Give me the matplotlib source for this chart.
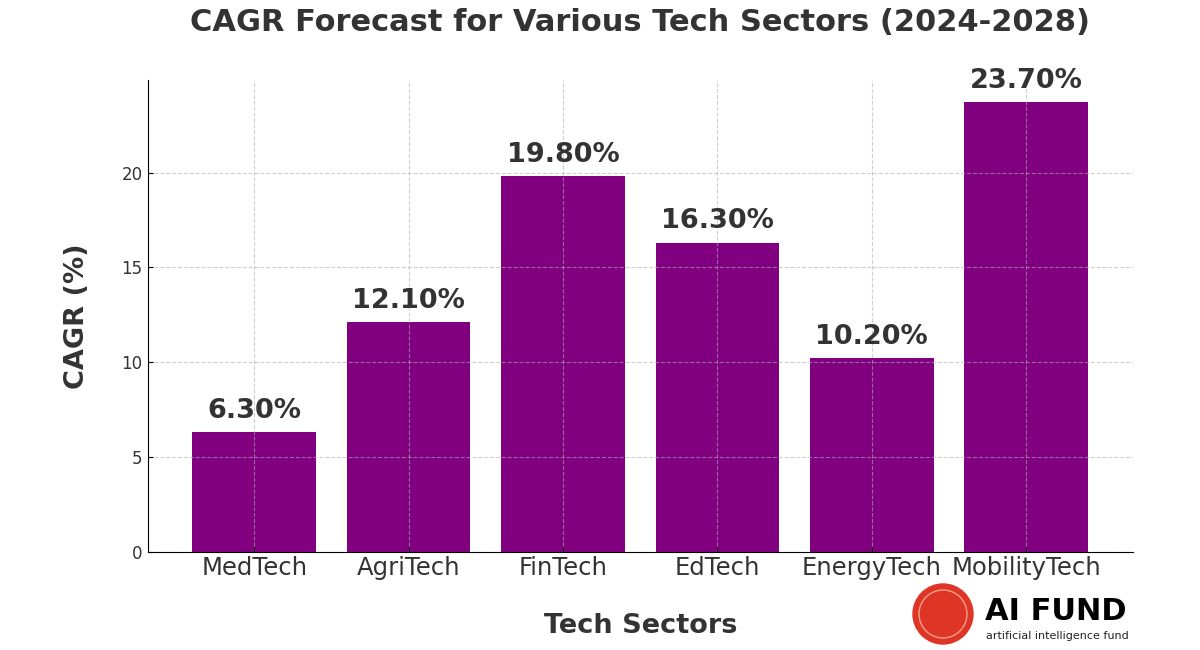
import numpy as np
import matplotlib
matplotlib.use("Agg")
import matplotlib.pyplot as plt
from matplotlib.patches import Circle

plt.rcParams["font.family"] = ["DejaVu Sans"]

# data
sectors = ["MedTech", "AgriTech", "FinTech", "EdTech", "EnergyTech", "MobilityTech"]
cagr = [6.3, 12.1, 19.8, 16.3, 10.2, 23.7]

TXT = "#333333"
BAR = "#800080"

fig = plt.figure(figsize=(12, 6.5), dpi=100)
ax = fig.add_axes([0.123, 0.151, 0.821, 0.726])

x = np.arange(len(sectors))
bars = ax.bar(x, cagr, width=0.8, color=BAR)

for b, v in zip(bars, cagr):
    ax.text(b.get_x() + b.get_width() / 2, v + 0.45, f"{v:.2f}%",
            ha="center", va="bottom", fontsize=19.5, fontweight="bold", color=TXT)

ax.set_xticks(x)
ax.set_xticklabels(sectors, fontsize=17.5, color=TXT)
ax.set_ylim(0, max(cagr) * 1.05)
ax.set_yticks([0, 5, 10, 15, 20])
ax.tick_params(axis="y", labelsize=12, labelcolor=TXT, direction="in")
ax.tick_params(axis="x", direction="in", pad=3)

ax.grid(True, linestyle="--", color="#b0b0b0", alpha=0.6, linewidth=0.8)
ax.set_axisbelow(False)
for s in ["top", "right"]:
    ax.spines[s].set_visible(False)

ax.set_xlabel("Tech Sectors", fontsize=19.5, fontweight="bold", color=TXT, labelpad=24)
ax.set_ylabel("CAGR (%)", fontsize=19.5, fontweight="bold", color=TXT, labelpad=23)
fig.text(0.533, 0.965, "CAGR Forecast for Various Tech Sectors (2024-2028)",
         ha="center", va="center", fontsize=22, fontweight="bold", color=TXT)

# logo
logo = fig.add_axes([0.755, 0.0, 0.2, 0.12])
logo.set_xlim(0, 240)
logo.set_ylim(0, 78)
logo.set_aspect("equal")
logo.axis("off")
logo.add_patch(Circle((37, 36), 30, color="#df3527"))
logo.add_patch(Circle((37, 36), 24, fill=False, ec="#f2a08a", lw=1.0))
logo.text(79, 38, "AI FUND", fontsize=22, fontweight="bold", color="black", va="center")
logo.text(80, 14, "artificial intelligence fund", fontsize=8, color="#222222", va="center")

fig.savefig("out.png", dpi=100)
